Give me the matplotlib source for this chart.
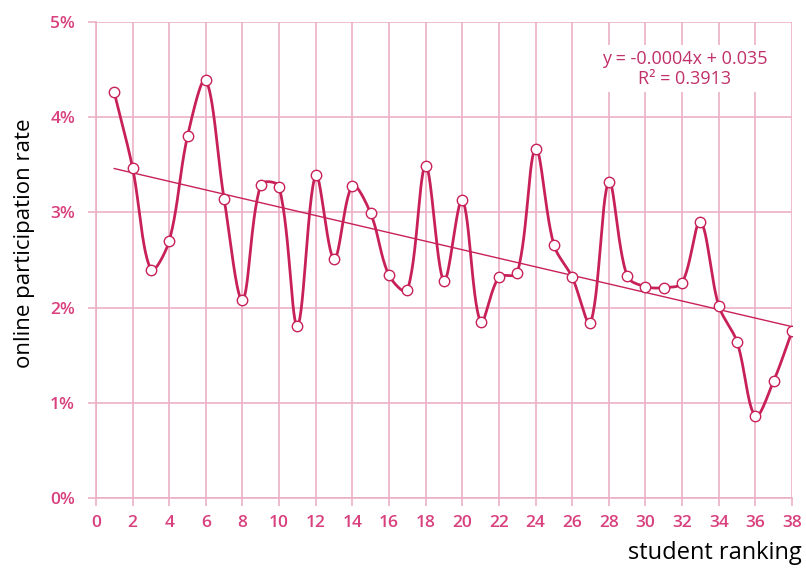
import numpy as np
import matplotlib
matplotlib.use("Agg")
import matplotlib.pyplot as plt
from matplotlib.ticker import FuncFormatter

ranking = list(range(1, 39))
rate_pct = [4.26, 3.47, 2.40, 2.70, 3.80, 4.39, 3.14, 2.08, 3.29, 3.27,
            1.81, 3.39, 2.51, 3.28, 2.99, 2.34, 2.18, 3.49, 2.28, 3.13,
            1.85, 2.32, 2.36, 3.67, 2.66, 2.32, 1.84, 3.32, 2.33, 2.22,
            2.21, 2.26, 2.90, 2.02, 1.64, 0.86, 1.23, 1.75]
x_ticks = list(range(0, 39, 2))
y_ticks = [0, 1, 2, 3, 4, 5]
eq_text = "y = -0.0004x + 0.035\nR² = 0.3913"

LINE = "#C8215A"
GRID = "#EBB0C6"
TICK = "#D8407E"

def smooth(xs, ys, sx=18.3, sy=95.2, n=30):
    # chord-length normalised Bezier smoothing (Excel-like), in pixel space
    P = np.column_stack([np.asarray(xs, float) * sx, np.asarray(ys, float) * sy])
    m = len(P)
    out = []
    for i in range(m - 1):
        p0 = P[i - 1] if i > 0 else P[i]
        p1 = P[i]
        p2 = P[i + 1]
        p3 = P[i + 2] if i + 2 < m else P[i + 1]
        d01 = np.linalg.norm(p1 - p0)
        d12 = np.linalg.norm(p2 - p1)
        d23 = np.linalg.norm(p3 - p2)
        f1 = d12 / (d01 + d12) / 3.0 if d01 + d12 > 0 else 0
        f2 = d12 / (d12 + d23) / 3.0 if d12 + d23 > 0 else 0
        c1 = p1 + (p2 - p0) * f1
        c2 = p2 - (p3 - p1) * f2
        t = np.linspace(0, 1, n, endpoint=(i == m - 2))[:, None]
        b = ((1 - t) ** 3) * p1 + 3 * ((1 - t) ** 2) * t * c1 + 3 * (1 - t) * t ** 2 * c2 + t ** 3 * p2
        out.append(b)
    arr = np.vstack(out)
    return arr[:, 0] / sx, arr[:, 1] / sy

fig = plt.figure(figsize=(8.06, 5.70), dpi=100)
ax = fig.add_axes([0.119, 0.1263, 0.8636, 0.8351])

cx, cy = smooth(ranking, rate_pct)
ax.plot(cx, cy, color=LINE, lw=2.0, zorder=3)
ax.plot(ranking, rate_pct, ls="none", marker="o", ms=7.5, mfc="white",
        mec=LINE, mew=1.0, zorder=4)

slope, intercept = np.polyfit(ranking, rate_pct, 1)
xr = np.array([ranking[0], ranking[-1]], float)
ax.plot(xr, slope * xr + intercept, color=LINE, lw=1.0, zorder=2)

ax.text(32.15, 4.51, eq_text, color="#C0306A", fontsize=13, ha="center",
        va="center", family="Open Sans", linespacing=1.15, zorder=5,
        bbox=dict(facecolor="white", edgecolor="none", pad=3))

ax.set_xlim(0, 38)
ax.set_ylim(0, 5)
ax.set_xticks(x_ticks)
ax.set_yticks(y_ticks)
ax.yaxis.set_major_formatter(FuncFormatter(lambda v, p: f"{int(v)}%"))
ax.grid(True, color=GRID, lw=1.2, zorder=0)
for s in ["top", "right"]:
    ax.spines[s].set_visible(False)
for s in ["left", "bottom"]:
    ax.spines[s].set_color(GRID)
    ax.spines[s].set_linewidth(1.2)
ax.tick_params(axis="both", colors=GRID, length=6, width=1.2,
               labelcolor=TICK, labelsize=12.5)
ax.tick_params(axis="x", pad=6)
ax.tick_params(axis="y", pad=9)
for lab in ax.get_xticklabels() + ax.get_yticklabels():
    lab.set_family("Open Sans")
    lab.set_fontweight("semibold")

ax.set_ylabel("online participation rate", fontsize=16, family="Open Sans",
              color="black")
ax.yaxis.set_label_coords(-0.088, 0.536)
fig.text(0.995, 0.03, "student ranking", fontsize=17, family="Open Sans",
         ha="right", va="center", color="black")

fig.savefig("out.png", dpi=100)
